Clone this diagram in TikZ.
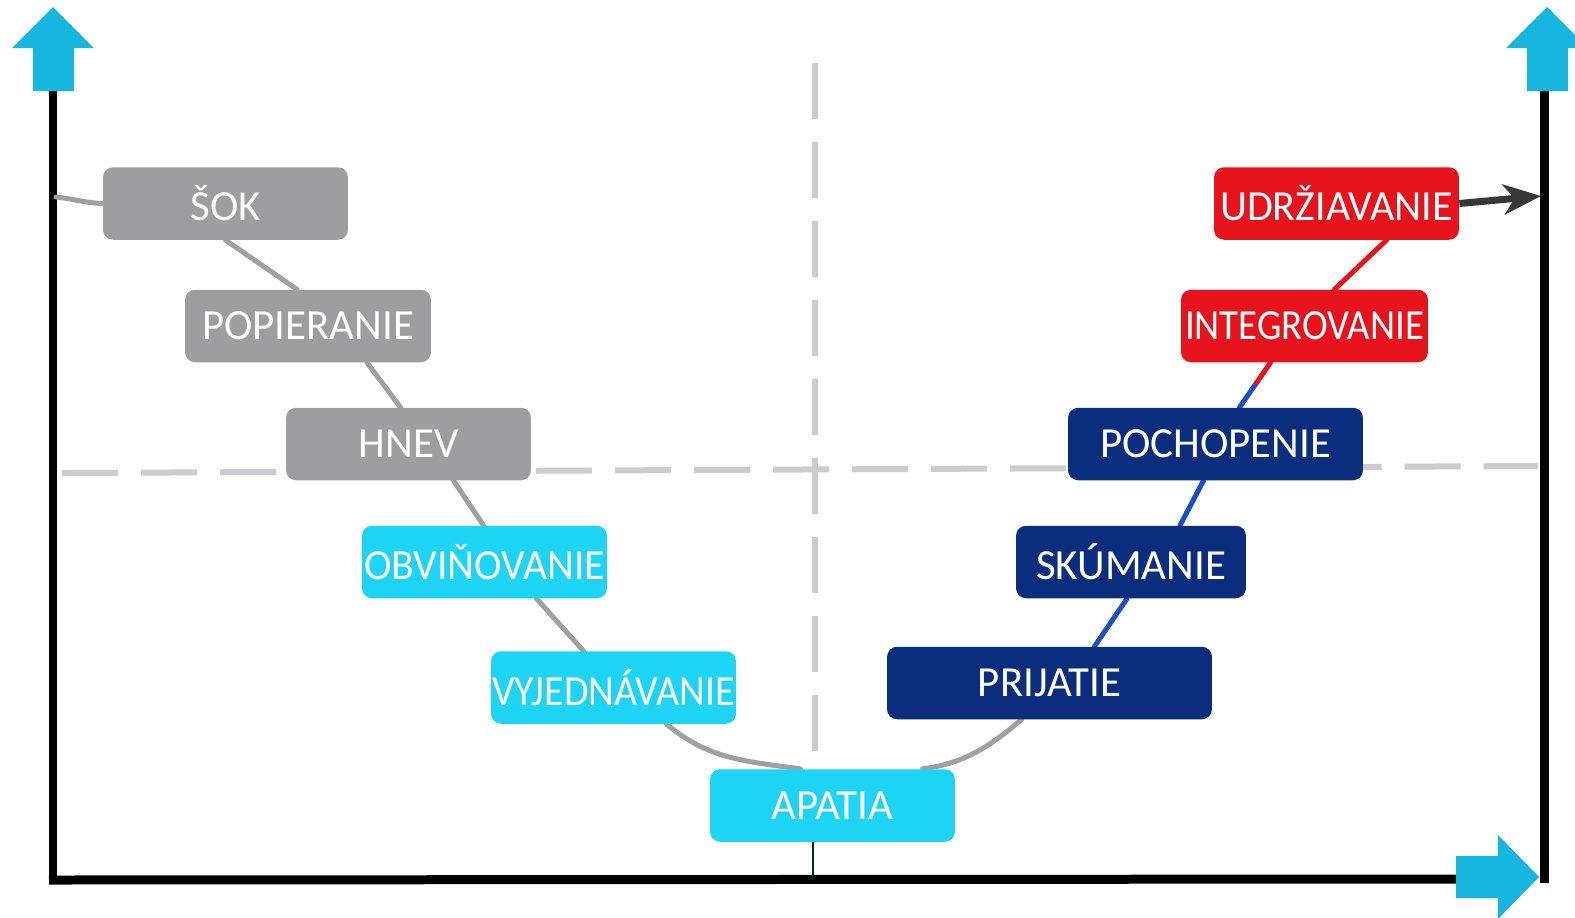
\documentclass[tikz,border=0pt]{standalone}
\usepackage{fontspec}
\setmainfont{Carlito}
\usepackage{graphicx}
\usetikzlibrary{arrows.meta,calc,backgrounds}
\definecolor{boxgray}{RGB}{158,158,160}
\definecolor{boxcyan}{RGB}{30,212,245}
\definecolor{boxblue}{RGB}{11,45,126}
\definecolor{boxred}{RGB}{230,19,29}
\definecolor{arrcyan}{RGB}{22,182,222}
\definecolor{lineblue}{RGB}{27,79,196}
\definecolor{linegray}{RGB}{160,160,162}
\definecolor{dashgray}{RGB}{204,204,206}
\newcommand\fitto[2]{\resizebox{#1}{\height}{#2}}
\begin{document}
\begin{tikzpicture}[x=0.02cm,y=-0.02cm,
  stage/.style={rounded corners=0.2cm, inner sep=0pt, minimum height=1.45cm,
    text=white, font=\fontsize{24.4}{28}\selectfont},
  graystage/.style={stage, fill=boxgray},
  cyanstage/.style={stage, fill=boxcyan},
  bluestage/.style={stage, fill=boxblue},
  redstage/.style={stage, fill=boxred},
  curve/.style={draw=linegray, line width=0.1cm, line cap=round},
  bline/.style={draw=lineblue, line width=0.1cm, line cap=round},
  rline/.style={draw=boxred, line width=0.1cm, line cap=round},
  axis/.style={draw=black, line width=0.18cm},
  bigarrow/.style={fill=arrcyan, draw=none},
  guide/.style={draw=dashgray, line width=0.12cm, dash pattern=on 1.12cm off 0.46cm},
  endarrow/.style={draw=black!78, line width=0.14cm, -{Stealth[length=0.75cm,width=0.6cm,inset=0.22cm]}}
]
\useasboundingbox (0,0) rectangle (1575,917);

% stages
\node[graystage, minimum width=4.9cm]  (sok)    at (225.5,203.5) {ŠOK};
\node[graystage, minimum width=4.92cm] (pop)    at (308,326)     {POPIERANIE};
\node[graystage, minimum width=4.9cm]  (hnev)   at (408.5,444)   {HNEV};
\node[cyanstage, minimum width=4.9cm]  (obv)    at (484.5,562)   {\fitto{4.82cm}{OBVIŇOVANIE}};
\node[cyanstage, minimum width=4.9cm]  (vyj)    at (613.5,687.5) {\fitto{4.86cm}{VYJEDNÁVANIE}};
\node[cyanstage, minimum width=4.9cm]  (apatia) at (832.5,805.5) {APATIA};
\node[bluestage, minimum width=6.5cm]  (prij)   at (1049.5,683)  {PRIJATIE};
\node[bluestage, minimum width=4.6cm]  (sku)    at (1131,562)    {SKÚMANIE};
\node[bluestage, minimum width=5.9cm]  (poch)   at (1215.5,444)  {POCHOPENIE};
\node[redstage,  minimum width=4.94cm] (integ)  at (1304.5,326)  {\fitto{4.78cm}{INTEGROVANIE}};
\node[redstage,  minimum width=4.9cm]  (udr)    at (1336.5,203.5){\fitto{4.66cm}{UDRŽIAVANIE}};

\coordinate (lax) at (56,197);
\coordinate (rax) at (1541,196);
\coordinate (bax) at (813,880);

\begin{scope}[on background layer]
  % guide lines
  \draw[guide] (815,63) -- (815,770);
  \draw[guide] (62,473) -- (1538,466);
  % axes
  \draw[axis] (53,91) -- (53,880);
  \draw[axis] (49,880) -- (1458,879);
  \draw[axis] (1544,91) -- (1544,883);
  \fill[bigarrow] (53,7) -- (94,48) -- (74,48) -- (74,91) -- (33,91) -- (33,48) -- (12,48) -- cycle;
  \fill[bigarrow] (1547,7) -- (1588,48) -- (1568,48) -- (1568,91) -- (1527,91) -- (1527,48) -- (1506,48) -- cycle;
  \fill[bigarrow] (1539,877) -- (1498,919) -- (1498,898) -- (1456,898) -- (1456,856) -- (1498,856) -- (1498,835) -- cycle;
  % connectors
  \draw[draw=black!70!teal, line width=0.03cm] (apatia.south -| bax) -- (bax);
  \draw[curve] (lax) to[out=-6,in=178] (sok.west);
  \draw[curve] (sok.south) -- ($(pop.north)+(-11,0)$);
  \draw[curve] ($(pop.south)+(59,0)$) -- ($(hnev.north)+(-8,0)$);
  \draw[curve] ($(hnev.south)+(45,0)$) -- ($(obv.north)+(-1,0)$);
  \draw[curve] ($(obv.south)+(52,0)$) -- ($(vyj.north)+(-30,0)$);
  \draw[curve] ($(vyj.south)+(53,0)$) to[out=-40,in=172] ($(apatia.north)+(-32,0)$);
  \draw[curve] ($(apatia.north)+(90,0)$) to[out=8,in=-140] ($(prij.south)+(-28,0)$);
  \draw[bline] ($(prij.north)+(45,0)$) -- ($(sku.south)+(-4,0)$);
  \draw[bline] ($(sku.north)+(49,0)$) -- ($(poch.south)+(-12,0)$);
  \coordinate (p1) at ($(poch.north)+(24,0)$);
  \coordinate (p2) at ($(integ.south)+(-34,0)$);
  \coordinate (pm) at ($(p1)!0.55!(p2)$);
  \draw[bline] (p1) -- (pm);
  \draw[rline] (pm) -- (p2);
  \draw[rline] ($(integ.north)+(30,0)$) -- ($(udr.south)+(50,0)$);
  \draw[endarrow] (udr.east) -- (rax);
\end{scope}
\end{tikzpicture}
\end{document}
